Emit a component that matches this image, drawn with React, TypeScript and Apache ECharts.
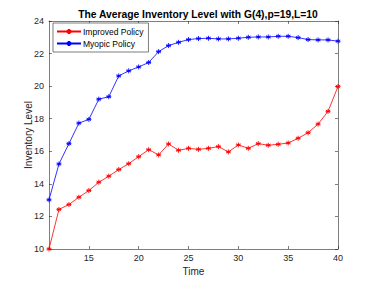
import React, { useEffect, useRef } from "react";
import * as echarts from "echarts";

const times = [11,12,13,14,15,16,17,18,19,20,21,22,23,24,25,26,27,28,29,30,31,32,33,34,35,36,37,38,39,40];
const improved = [10,12.43,12.73,13.18,13.59,14.10,14.47,14.88,15.24,15.67,16.10,15.78,16.45,16.06,16.18,16.12,16.18,16.29,15.96,16.39,16.18,16.47,16.37,16.43,16.51,16.80,17.14,17.67,18.45,19.98];
const myopic = [13.02,15.22,16.47,17.73,17.96,19.20,19.35,20.63,20.94,21.18,21.45,22.12,22.49,22.69,22.86,22.92,22.94,22.90,22.90,22.94,23.00,23.02,23.02,23.06,23.06,22.98,22.86,22.84,22.84,22.76];
const xTicks = [15,20,25,30,35,40];
const yTicks = [10,12,14,16,18,20,22,24];

const STAR = "path://M0,-5L0,5M-4.33,-2.5L4.33,2.5M-4.33,2.5L4.33,-2.5M-5,0L5,0";
const FONT = "Liberation Sans, Arial, sans-serif";
const AX = "#262626";

export default function App() {
  const ref = useRef<HTMLDivElement>(null);
  useEffect(() => {
    const chart = echarts.init(ref.current!, null, { renderer: "svg" });
    const mk = (name: string, data: number[], color: string) => ({
      name,
      type: "line",
      data: times.map((t, i) => [t, data[i]]),
      symbol: STAR,
      symbolSize: 5,
      showAllSymbol: true,
      lineStyle: { color, width: 0.8 },
      itemStyle: { color, borderColor: color, borderWidth: 0.9 },
    });
    const tickStyle = { color: AX, width: 0.6 };
    chart.setOption({
      animation: false,
      backgroundColor: "#fff",
      title: {
        text: "The Average Inventory Level with G(4),p=19,L=10",
        left: 193,
        textAlign: "center",
        top: 4,
        textStyle: { fontFamily: FONT, fontSize: 10.3, fontWeight: "bold", color: "#000" },
      },
      grid: { left: 49, right: 36, top: 21, bottom: 31, show: false },
      legend: {
        left: 53,
        top: 23,
        orient: "vertical",
        itemWidth: 24,
        itemHeight: 6,
        itemGap: 3,
        padding: [4, 5, 4, 3],
        borderColor: AX,
        borderWidth: 0.6,
        backgroundColor: "#fff",
        textStyle: { fontFamily: FONT, fontSize: 8.5, color: "#000", padding: [0, 0, 0, -3] },
        data: ["Improved Policy", "Myopic Policy"],
      },
      xAxis: [
        {
          type: "value",
          min: 11,
          max: 40,
          name: "Time",
          nameLocation: "middle",
          nameGap: 17,
          nameMoveOverlap: false,
          nameTextStyle: { fontFamily: FONT, fontSize: 10, color: AX },
          axisLine: { lineStyle: tickStyle },
          axisTick: { inside: true, length: 3, customValues: xTicks, lineStyle: tickStyle },
          axisLabel: { customValues: xTicks, fontFamily: FONT, fontSize: 9, color: AX, margin: 4 },
          splitLine: { show: false },
        },
        {
          type: "value",
          position: "top",
          min: 11,
          max: 40,
          axisLine: { show: true, lineStyle: tickStyle },
          axisTick: { show: true, inside: true, length: 3, customValues: xTicks, lineStyle: tickStyle },
          axisLabel: { show: false },
          splitLine: { show: false },
        },
      ],
      yAxis: [
        {
          type: "value",
          min: 10,
          max: 24,
          interval: 2,
          name: "Inventory Level",
          nameLocation: "middle",
          nameGap: 16,
          nameMoveOverlap: false,
          nameTextStyle: { fontFamily: FONT, fontSize: 10, color: AX },
          axisLine: { show: true, lineStyle: tickStyle },
          axisTick: { show: true, inside: true, length: 3, lineStyle: tickStyle },
          axisLabel: { fontFamily: FONT, fontSize: 9, color: AX, margin: 5, customValues: yTicks },
          splitLine: { show: false },
        },
        {
          type: "value",
          position: "right",
          min: 10,
          max: 24,
          interval: 2,
          axisLine: { show: true, lineStyle: tickStyle },
          axisTick: { show: true, inside: true, length: 3, lineStyle: tickStyle },
          axisLabel: { show: false },
          splitLine: { show: false },
        },
      ],
      series: [mk("Improved Policy", improved, "#ff0000"), mk("Myopic Policy", myopic, "#0000ff")],
    });
    return () => chart.dispose();
  }, []);
  return <div ref={ref} style={{ width: 374, height: 281, position: "absolute", left: 0, top: 0 }} />;
}
